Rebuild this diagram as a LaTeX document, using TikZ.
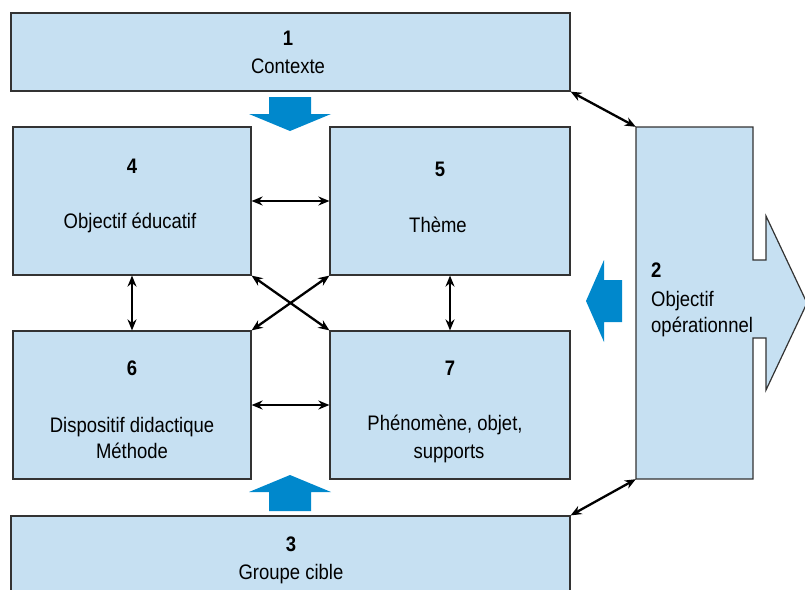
\documentclass[tikz,border=0pt]{standalone}
\usepackage{fontspec}
\setmainfont{Liberation Sans}[FakeStretch=0.88]
\usetikzlibrary{arrows.meta}
\definecolor{boxblue}{RGB}{198,224,242}
\definecolor{arrowblue}{RGB}{0,136,204}

\begin{document}
\begin{tikzpicture}[x=1pt, y=-1pt,
  box/.style={draw=black!80, line width=1.2pt, fill=boxblue, inner sep=0pt},
  num/.style={font=\fontsize{21}{25}\selectfont\bfseries, anchor=base, inner sep=0pt},
  txt/.style={font=\fontsize{21}{25}\selectfont, anchor=base, inner sep=0pt},
  link/.style={{Stealth[length=11pt,width=9pt]}-{Stealth[length=11pt,width=9pt]}, line width=2.3pt}]
  \useasboundingbox (0,0) rectangle (805,589);
  \clip (0,0) rectangle (805,589);

  \node[box, minimum width=559pt, minimum height=78pt] (b1) at (290.5,52) {};
  \node[box, minimum width=238pt, minimum height=148pt] (b4) at (132,201) {};
  \node[box, minimum width=240pt, minimum height=148pt] (b5) at (450,201) {};
  \node[box, minimum width=238pt, minimum height=148pt] (b6) at (132,405) {};
  \node[box, minimum width=240pt, minimum height=148pt] (b7) at (450,405) {};
  \node[box, minimum width=559pt, minimum height=80pt] (b3) at (290.5,556) {};
  \draw[fill=boxblue, draw=black!80, line width=1.2pt]
    (636,127) -- (753,127) -- (753,260) -- (766,260) -- (766,216)
    -- (807,303) -- (766,390) -- (766,338) -- (753,338) -- (753,479)
    -- (636,479) -- cycle;
  \node[minimum width=117pt, minimum height=352pt, inner sep=0pt] (b2) at (694.5,303) {};

  % blue arrows
  \fill[arrowblue] (269,97) -- (311,97) -- (311,114) -- (331,114)
    -- (290,131) -- (249,114) -- (269,114) -- cycle;
  \fill[arrowblue] (269,511) -- (311,511) -- (311,492) -- (331,492)
    -- (290,475) -- (249,492) -- (269,492) -- cycle;
  \fill[arrowblue] (622,280) -- (622,322) -- (604,322) -- (604,342)
    -- (586,301) -- (604,260) -- (604,280) -- cycle;

  \draw[link] (b1.south east) -- (b2.north west);
  \draw[link] (b3.north east) -- (b2.south west);
  \draw[link] (b4) -- (b5);
  \draw[link] (b6) -- (b7);
  \draw[link] (b4) -- (b6);
  \draw[link] (b5) -- (b7);
  \draw[link] (b4.south east) -- (b7.north west);
  \draw[link] (b5.south west) -- (b6.north east);

  \node[num] (n1) at (288,45) {1};
  \node[txt] (t1) at (288,73) {Contexte};
  \node[num] (n4) at (132,173) {4};
  \node[txt] (t4) at (130,228) {Objectif éducatif};
  \node[num] (n5) at (440,176) {5};
  \node[txt] (t5) at (438,232) {Thème};
  \node[num] (n6) at (132,375) {6};
  \node[txt] (t6a) at (132,432) {Dispositif didactique};
  \node[txt] (t6b) at (132,458) {Méthode};
  \node[num] (n7) at (450,375) {7};
  \node[txt] (t7a) at (445,430) {Phénomène, objet,};
  \node[txt] (t7b) at (449,458) {supports};
  \node[num] (n3) at (291,551) {3};
  \node[txt] (t3) at (291,579) {Groupe cible};
  \node[num, anchor=base west] (n2) at (651,277) {2};
  \node[txt, anchor=base west] (t2a) at (651,306) {Objectif};
  \node[txt, anchor=base west] (t2b) at (651,332) {opérationnel};
\end{tikzpicture}
\end{document}
